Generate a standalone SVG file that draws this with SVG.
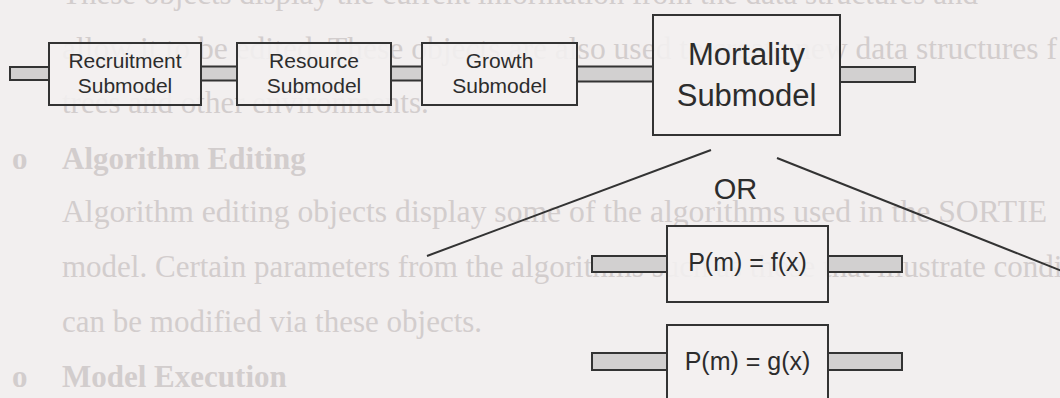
<svg xmlns="http://www.w3.org/2000/svg" width="1060" height="398" viewBox="0 0 1060 398">
<style>
 .bg{font-family:"Liberation Serif","Times New Roman",serif;font-size:31px;fill:#d2cdcd}
 .bgb{font-weight:bold}
 .box{fill:#f3f0f0;fill-opacity:0.88;stroke:#333333;stroke-width:2}
 .stub{fill:#d2d0d0;stroke:#333333;stroke-width:2}
 .lbl{font-family:"Liberation Sans",Arial,sans-serif;fill:#2c2c2c;text-anchor:middle}
 .s{font-size:21px}
 .m{font-size:31px}
 .f{font-size:25px}
 .conn{stroke:#333333;stroke-width:2;fill:none}
</style>
<rect width="1060" height="398" fill="#f2efef"/>
<g id="page-text" class="bg">
 <text x="62" y="4">These objects display the current information from the data structures and</text>
 <text x="62" y="59" textLength="995" lengthAdjust="spacingAndGlyphs">allow it to be edited. These objects are also used to create new data structures f</text>
 <text x="62" y="113">trees and other environments.</text>
 <text x="12" y="169" class="bgb">o</text>
 <text x="62" y="169" class="bgb">Algorithm Editing</text>
 <text x="62" y="222" textLength="985" lengthAdjust="spacingAndGlyphs">Algorithm editing objects display some of the algorithms used in the SORTIE</text>
 <text x="62" y="277">model. Certain parameters from the algorithms such as those that illustrate conditions</text>
 <text x="62" y="332">can be modified via these objects.</text>
 <text x="12" y="387" class="bgb">o</text>
 <text x="62" y="387" class="bgb">Model Execution</text>
</g>
<g id="connectors">
 <rect class="stub" x="10" y="67" width="39" height="13"/>
 <rect class="stub" x="201" y="66.5" width="36" height="14"/>
 <rect class="stub" x="391" y="66.5" width="31" height="14"/>
 <rect class="stub" x="577" y="66.5" width="76" height="15"/>
 <rect class="stub" x="840" y="67" width="75" height="15"/>
 <line class="conn" x1="427" y1="256" x2="711" y2="150"/>
 <line class="conn" x1="777" y1="158" x2="1062" y2="271"/>
 <rect class="stub" x="592" y="256" width="75" height="16"/>
 <rect class="stub" x="828" y="256" width="74" height="16"/>
 <rect class="stub" x="592" y="353" width="75" height="17"/>
 <rect class="stub" x="828" y="353" width="74" height="17"/>
</g>
<g id="recruitment">
 <rect class="box" x="49" y="43" width="152" height="62"/>
 <text class="lbl s" x="125" y="68">Recruitment</text>
 <text class="lbl s" x="125" y="93">Submodel</text>
</g>
<g id="resource">
 <rect class="box" x="237" y="43" width="154" height="62"/>
 <text class="lbl s" x="314" y="68">Resource</text>
 <text class="lbl s" x="314" y="93">Submodel</text>
</g>
<g id="growth">
 <rect class="box" x="422" y="43" width="155" height="62"/>
 <text class="lbl s" x="499.5" y="68">Growth</text>
 <text class="lbl s" x="499.5" y="93">Submodel</text>
</g>
<g id="mortality">
 <rect class="box" x="653" y="15" width="187" height="120"/>
 <text class="lbl m" x="746.5" y="65">Mortality</text>
 <text class="lbl m" x="746.5" y="106">Submodel</text>
</g>
<g id="or-label">
 <text class="lbl" x="735.5" y="199" font-size="29">OR</text>
</g>
<g id="option-f">
 <rect class="box" x="667" y="226" width="161" height="76"/>
 <text class="lbl f" x="747.5" y="271">P(m) = f(x)</text>
</g>
<g id="option-g">
 <rect class="box" x="667" y="325" width="161" height="76"/>
 <text class="lbl f" x="747.5" y="370">P(m) = g(x)</text>
</g>
</svg>
